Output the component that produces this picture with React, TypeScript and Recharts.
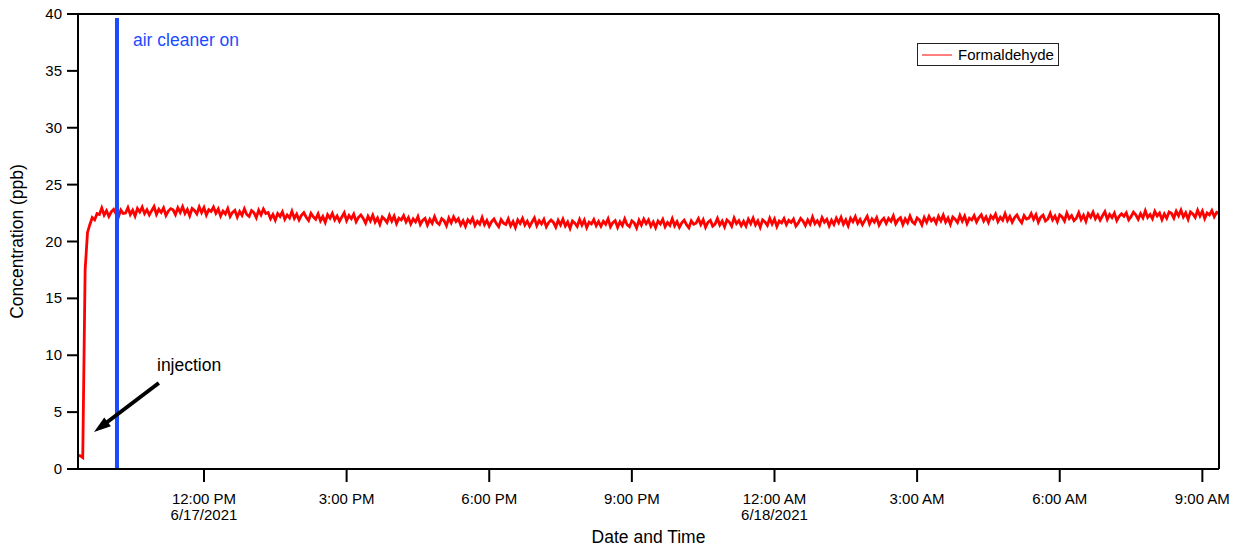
import React from "react";
import {
  LineChart,
  Line,
  XAxis,
  YAxis,
  ReferenceLine,
  ReferenceDot,
  Legend,
} from "recharts";

// Sampling: hours since midnight 6/17/2021, every 3 minutes
const START_HOUR = 9.35;
const STEP_HOURS = 0.05;

// Formaldehyde concentration (ppb), one row per hour of samples
const formaldehydeValues: number[] = [
  1.2, 1.15, 1.0, 17.5, 20.8, 21.5, 22.1, 21.9, 22.45, 22.37, 22.95, 22.33, 22.7, 22.2, 22.6, 22.83, 22.43, 22.15, 22.77, 22.47,
  22.5, 22.98, 22.37, 22.75, 22.23, 22.9, 22.59, 23.03, 22.45, 22.79, 22.33, 22.71, 23.07, 22.39, 22.83, 22.55, 22.95, 22.29, 22.67, 22.89,
  22.78, 22.36, 22.96, 22.56, 23.06, 22.46, 22.82, 22.26, 22.9, 22.72, 22.42, 23.04, 22.54, 22.98, 22.32, 22.8, 22.64, 23.02, 22.48, 22.86,
  22.24, 22.68, 22.42, 22.9, 22.2, 22.56, 22.74, 22.14, 22.64, 22.3, 22.88, 22.38, 22.2, 22.72, 22.54, 22.1, 22.76, 22.34, 22.86, 22.46,
  22.55, 22.0, 22.37, 21.87, 22.45, 22.2, 22.6, 21.95, 22.33, 22.07, 22.65, 22.03, 22.4, 21.9, 22.3, 22.53, 22.13, 21.85, 22.47, 22.17,
  21.95, 22.43, 21.82, 22.2, 21.68, 22.35, 22.04, 22.48, 21.9, 22.24, 21.78, 22.16, 22.52, 21.84, 22.28, 22.0, 22.4, 21.74, 22.12, 22.34,
  22.03, 21.61, 22.21, 21.81, 22.31, 21.71, 22.07, 21.51, 22.15, 21.97, 21.67, 22.29, 21.79, 22.23, 21.57, 22.05, 21.89, 22.27, 21.73, 22.11,
  21.54, 21.98, 21.72, 22.2, 21.5, 21.86, 22.04, 21.44, 21.94, 21.6, 22.18, 21.68, 21.5, 22.02, 21.84, 21.4, 22.06, 21.64, 22.16, 21.76,
  22.0, 21.45, 21.82, 21.32, 21.9, 21.65, 22.05, 21.4, 21.78, 21.52, 22.1, 21.48, 21.85, 21.35, 21.75, 21.98, 21.58, 21.3, 21.92, 21.62,
  21.5, 21.98, 21.37, 21.75, 21.23, 21.9, 21.59, 22.03, 21.45, 21.79, 21.33, 21.71, 22.07, 21.39, 21.83, 21.55, 21.95, 21.29, 21.67, 21.89,
  21.68, 21.26, 21.86, 21.46, 21.96, 21.36, 21.72, 21.16, 21.8, 21.62, 21.32, 21.94, 21.44, 21.88, 21.22, 21.7, 21.54, 21.92, 21.38, 21.76,
  21.34, 21.78, 21.52, 22.0, 21.3, 21.66, 21.84, 21.24, 21.74, 21.4, 21.98, 21.48, 21.3, 21.82, 21.64, 21.2, 21.86, 21.44, 21.96, 21.56,
  21.9, 21.35, 21.72, 21.22, 21.8, 21.55, 21.95, 21.3, 21.68, 21.42, 22.0, 21.38, 21.75, 21.25, 21.65, 21.88, 21.48, 21.2, 21.82, 21.52,
  21.61, 22.01, 21.49, 21.91, 21.25, 21.69, 21.87, 21.35, 21.53, 22.03, 21.45, 21.79, 21.29, 21.89, 21.71, 21.35, 22.05, 21.57, 21.83, 21.39,
  21.78, 21.36, 21.96, 21.56, 22.06, 21.46, 21.82, 21.26, 21.9, 21.72, 21.42, 22.04, 21.54, 21.98, 21.32, 21.8, 21.64, 22.02, 21.48, 21.86,
  21.67, 21.97, 21.35, 21.63, 22.03, 21.8, 21.4, 21.9, 21.53, 22.15, 21.57, 21.83, 21.45, 22.1, 21.7, 21.95, 21.37, 21.87, 21.5, 22.05,
  21.65, 22.13, 21.52, 21.9, 21.38, 22.05, 21.74, 22.18, 21.6, 21.94, 21.48, 21.86, 22.22, 21.54, 21.98, 21.7, 22.1, 21.44, 21.82, 22.04,
  21.59, 22.03, 21.77, 22.25, 21.55, 21.91, 22.09, 21.49, 21.99, 21.65, 22.23, 21.73, 21.55, 22.07, 21.89, 21.45, 22.11, 21.69, 22.21, 21.81,
  22.03, 21.61, 22.21, 21.81, 22.31, 21.71, 22.07, 21.51, 22.15, 21.97, 21.67, 22.29, 21.79, 22.23, 21.57, 22.05, 21.89, 22.27, 21.73, 22.11,
  22.35, 21.8, 22.17, 21.67, 22.25, 22.0, 22.4, 21.75, 22.13, 21.87, 22.45, 21.83, 22.2, 21.7, 22.1, 22.33, 21.93, 21.65, 22.27, 21.97,
  22.06, 22.46, 21.94, 22.36, 21.7, 22.14, 22.32, 21.8, 21.98, 22.48, 21.9, 22.24, 21.74, 22.34, 22.16, 21.8, 22.5, 22.02, 22.28, 21.84,
  22.05, 22.53, 21.92, 22.3, 21.78, 22.45, 22.14, 22.58, 22.0, 22.34, 21.88, 22.26, 22.62, 21.94, 22.38, 22.1, 22.5, 21.84, 22.22, 22.44,
  22.22, 22.52, 21.9, 22.18, 22.58, 22.35, 21.95, 22.45, 22.08, 22.7, 22.12, 22.38, 22.0, 22.65, 22.25, 22.5, 21.92, 22.42, 22.05, 22.6,
  22.48, 22.06, 22.66, 22.26, 22.76, 22.16, 22.52, 21.96, 22.6, 22.42, 22.12, 22.74, 22.24, 22.68, 22.02, 22.5, 22.34, 22.72, 22.18, 22.56,
  22.45,
];

const timeDomain: [number, number] = [9.35, 33.35];
const timeTicks = [12, 15, 18, 21, 24, 27, 30, 33];
const timeLabels = ["12:00 PM", "3:00 PM", "6:00 PM", "9:00 PM", "12:00 AM", "3:00 AM", "6:00 AM", "9:00 AM"];
const dateLabels = ["6/17/2021", "", "", "", "6/18/2021", "", "", ""];
const concDomain: [number, number] = [0, 40];
const concTicks = [0, 5, 10, 15, 20, 25, 30, 35, 40];

// Annotations (data coordinates)
const airCleanerOnHour = 10.17;
const airCleanerLineTop = 39.65;
const airCleanerLabel = { hour: 10.507, conc: 37.2, text: "air cleaner on" };
const injectionArrowFrom = { hour: 11.05, conc: 7.56 };
const injectionArrowTo = { hour: 9.687, conc: 3.25 };
const injectionLabel = { hour: 11.012, conc: 8.62, text: "injection" };

const SERIES_NAME = "Formaldehyde";
const FONT = "'Liberation Sans', Arial, Helvetica, sans-serif";
const BLUE = "#1a4bff";
const RED = "#ff0000";

const data = formaldehydeValues.map((v, i) => ({
  t: START_HOUR + i * STEP_HOURS,
  v,
}));

const XTick = (props: any) => {
  const { x, y, payload } = props;
  const idx = timeTicks.indexOf(payload.value);
  const label = idx >= 0 ? timeLabels[idx] : "";
  const date = idx >= 0 ? dateLabels[idx] : "";
  return (
    <g>
      <text x={x} y={y} dy={20} textAnchor="middle" fontSize={15} fill="#000" fontFamily={FONT}>
        {label}
      </text>
      {date ? (
        <text x={x} y={y} dy={36} textAnchor="middle" fontSize={15} fill="#000" fontFamily={FONT}>
          {date}
        </text>
      ) : null}
    </g>
  );
};

const YTick = (props: any) => {
  const { x, y, payload } = props;
  return (
    <text x={x - 3} y={y} dy={5} textAnchor="end" fontSize={15} fill="#000" fontFamily={FONT}>
      {payload.value}
    </text>
  );
};

const ArrowShape = (props: any) => {
  const { x1, y1, x2, y2 } = props;
  const dx = x2 - x1;
  const dy = y2 - y1;
  const len = Math.sqrt(dx * dx + dy * dy) || 1;
  const ux = dx / len;
  const uy = dy / len;
  const headLen = 17;
  const halfW = 5.5;
  const bx = x2 - ux * headLen;
  const by = y2 - uy * headLen;
  const nx = -uy;
  const ny = ux;
  return (
    <g>
      <line x1={x1} y1={y1} x2={bx + ux * 2} y2={by + uy * 2} stroke="#000" strokeWidth={4} />
      <polygon
        points={`${x2},${y2} ${bx + nx * halfW},${by + ny * halfW} ${bx - nx * halfW},${by - ny * halfW}`}
        fill="#000"
      />
    </g>
  );
};

const TextLabel = (color: string, text: string, size: number) => (props: any) => {
  const { cx, cy } = props;
  return (
    <text x={cx} y={cy} textAnchor="start" fontSize={size} fill={color} fontFamily={FONT}>
      {text}
    </text>
  );
};

const LegendBox = (props: any) => {
  const payload = props.payload || [];
  return (
    <div
      style={{
        border: "1px solid #222",
        width: 140,
        height: 21,
        background: "#fff",
        boxSizing: "content-box",
        display: "flex",
        alignItems: "center",
        fontFamily: FONT,
        fontSize: 15,
        color: "#000",
      }}
    >
      {payload.map((p: any) => (
        <div key={p.value} style={{ display: "flex", alignItems: "center" }}>
          <svg width={40} height={21} style={{ display: "block" }}>
            <line x1={4} y1={11} x2={34} y2={11} stroke={p.color} strokeWidth={1} />
          </svg>
          <span style={{ marginLeft: 0, lineHeight: "21px" }}>{p.value}</span>
        </div>
      ))}
    </div>
  );
};

const axisLine = { stroke: "#000", strokeWidth: 2 };
const tickLine = { stroke: "#000", strokeWidth: 2 };

export default function App() {
  return (
    <div style={{ position: "absolute", left: 0, top: 0, fontFamily: FONT }}>
      <LineChart
        width={1234}
        height={548}
        data={data}
        margin={{ top: 0, right: 0, bottom: 0, left: 8 }}
      >
        <XAxis
          dataKey="t"
          type="number"
          domain={timeDomain}
          ticks={timeTicks}
          height={79}
          axisLine={axisLine}
          tickLine={tickLine}
          tickSize={13}
          tick={<XTick />}
          interval={0}
          allowDataOverflow
          label={{
            value: "Date and Time",
            position: "insideBottom",
            offset: 5,
            style: { fontSize: 17.5, fill: "#000", fontFamily: FONT },
          }}
        />
        <XAxis
          xAxisId="top"
          orientation="top"
          dataKey="t"
          type="number"
          domain={timeDomain}
          ticks={timeTicks}
          height={14}
          axisLine={axisLine}
          tickLine={tickLine}
          tickSize={12}
          tick={false}
          interval={0}
          allowDataOverflow
        />
        <YAxis
          type="number"
          domain={concDomain}
          ticks={concTicks}
          width={70}
          axisLine={axisLine}
          tickLine={tickLine}
          tickSize={11}
          tick={<YTick />}
          interval={0}
          allowDataOverflow
          label={{
            value: "Concentration (ppb)",
            angle: -90,
            position: "insideLeft",
            offset: 9,
            style: { fontSize: 17.5, fill: "#000", fontFamily: FONT, textAnchor: "middle" },
          }}
        />
        <YAxis
          yAxisId="right"
          orientation="right"
          type="number"
          domain={concDomain}
          ticks={concTicks}
          width={15}
          axisLine={axisLine}
          tickLine={tickLine}
          tickSize={13}
          tick={false}
          interval={0}
          allowDataOverflow
        />
        <Legend
          layout="horizontal"
          verticalAlign="middle"
          align="center"
          content={<LegendBox />}
          wrapperStyle={{ position: "absolute", left: 917, top: 43, width: "auto" }}
        />
        <Line
          type="linear"
          dataKey="v"
          name={SERIES_NAME}
          stroke={RED}
          strokeWidth={2.8}
          strokeLinejoin="miter"
          dot={false}
          activeDot={false}
          isAnimationActive={false}
        />
        <ReferenceLine
          segment={[
            { x: airCleanerOnHour, y: airCleanerLineTop },
            { x: airCleanerOnHour, y: 0 },
          ]}
          stroke={BLUE}
          strokeWidth={4}
        />
        <ReferenceLine
          segment={[
            { x: injectionArrowFrom.hour, y: injectionArrowFrom.conc },
            { x: injectionArrowTo.hour, y: injectionArrowTo.conc },
          ]}
          shape={ArrowShape}
        />
        <ReferenceDot
          x={airCleanerLabel.hour}
          y={airCleanerLabel.conc}
          r={0}
          shape={TextLabel(BLUE, airCleanerLabel.text, 17.5)}
        />
        <ReferenceDot
          x={injectionLabel.hour}
          y={injectionLabel.conc}
          r={0}
          shape={TextLabel("#000", injectionLabel.text, 17.5)}
        />
      </LineChart>
    </div>
  );
}
